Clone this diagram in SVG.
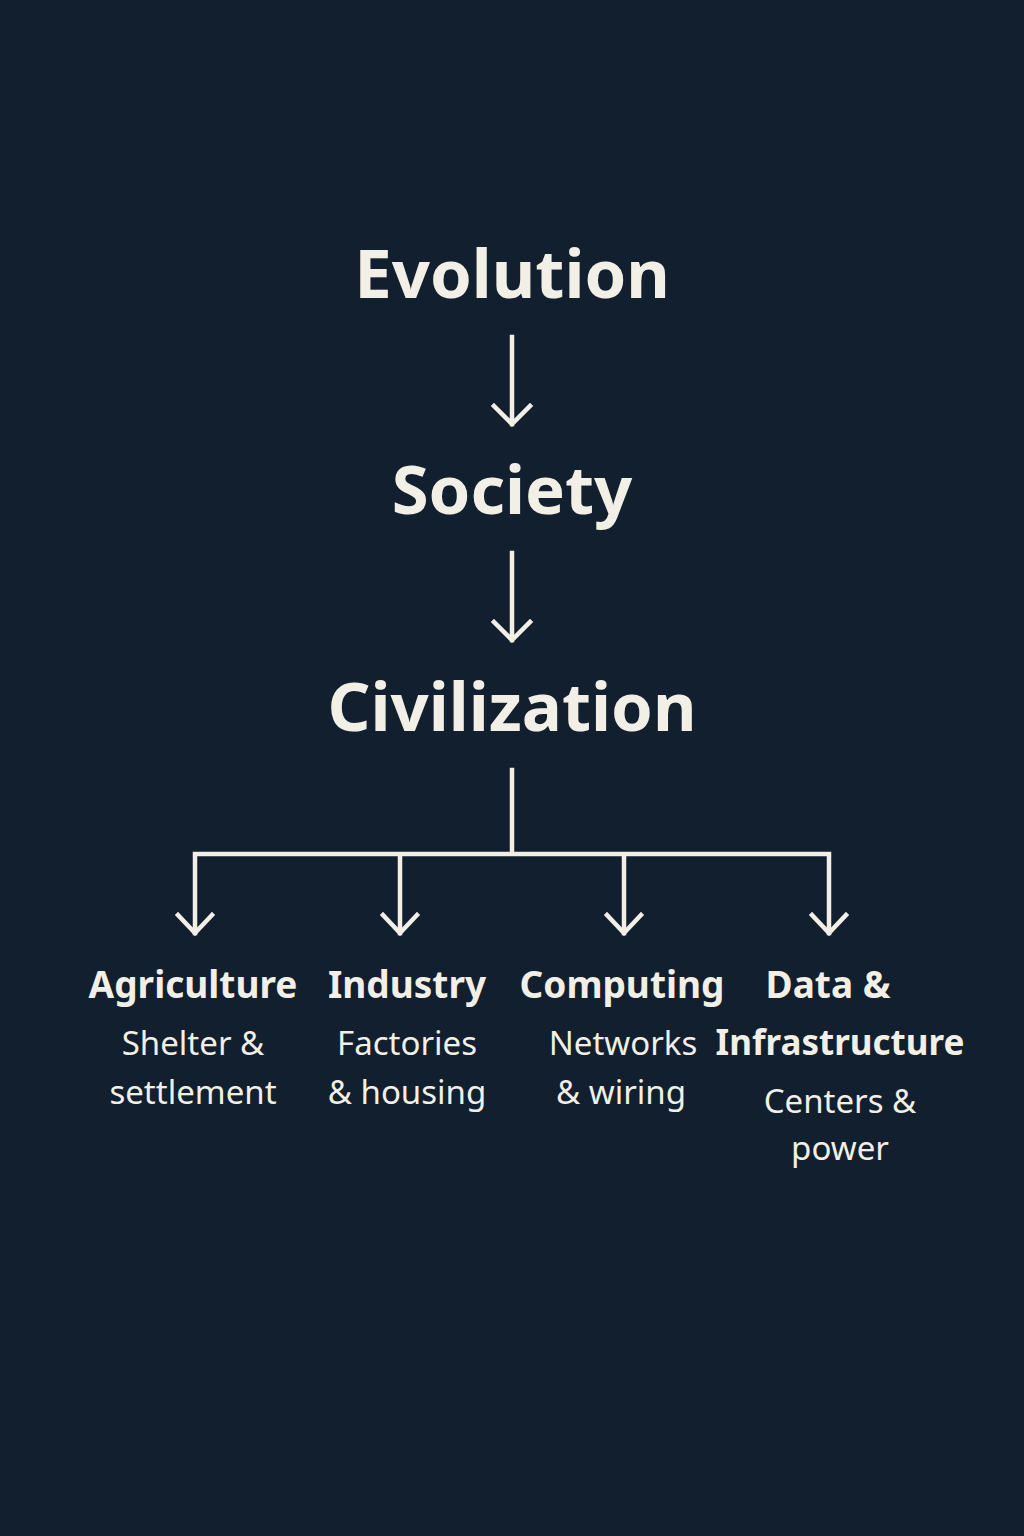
<svg xmlns="http://www.w3.org/2000/svg" width="1024" height="1536" viewBox="0 0 1024 1536">
<style>
.t{font-family:"Noto Sans","Open Sans",sans-serif;font-weight:700;font-size:67px;fill:#f2efe6;text-anchor:middle}
.h{font-family:"Noto Sans","Open Sans",sans-serif;font-weight:700;font-size:37px;fill:#f2efe6;text-anchor:middle}
.s{font-family:"Noto Sans","Open Sans",sans-serif;font-weight:400;font-size:33px;fill:#f2efe6;text-anchor:middle}
.c{fill:none;stroke:#f2efe6;stroke-width:4.5;stroke-linecap:square;stroke-linejoin:miter}
</style>
<rect width="1024" height="1536" fill="#111f2e"/>
<g id="evolution"><text class="t" x="512" y="298">Evolution</text></g>
<g id="society"><text class="t" x="512" y="514">Society</text></g>
<g id="civilization"><text class="t" x="512" y="731">Civilization</text></g>
<g id="agriculture"><text class="h" x="193" y="998">Agriculture</text><text class="s" x="193" y="1055">Shelter &amp;</text><text class="s" x="193" y="1104">settlement</text></g>
<g id="industry"><text class="h" x="407" y="998">Industry</text><text class="s" x="407" y="1055">Factories</text><text class="s" x="407" y="1104">&amp; housing</text></g>
<g id="computing"><text class="h" x="622" y="998">Computing</text><text class="s" x="623" y="1055">Networks</text><text class="s" x="621" y="1104">&amp; wiring</text></g>
<g id="data"><text class="h" x="828" y="998">Data &amp;</text><text class="h" x="840" y="1055" style="font-size:35px">Infrastructure</text><text class="s" x="840" y="1113">Centers &amp;</text><text class="s" x="840" y="1160">power</text></g>
<g id="connectors">
<path class="c" d="M512 337V424M494 406L512 424L530 406"/>
<path class="c" d="M512 553V640M494 622L512 640L530 622"/>
<path class="c" d="M512 770V854M195 933V854H829V933M400 854V933M624 854V933"/>
<path class="c" d="M178 915L195 933L212 915M383 915L400 933L417 915M607 915L624 933L641 915M812 915L829 933L846 915"/>
</g>
</svg>
